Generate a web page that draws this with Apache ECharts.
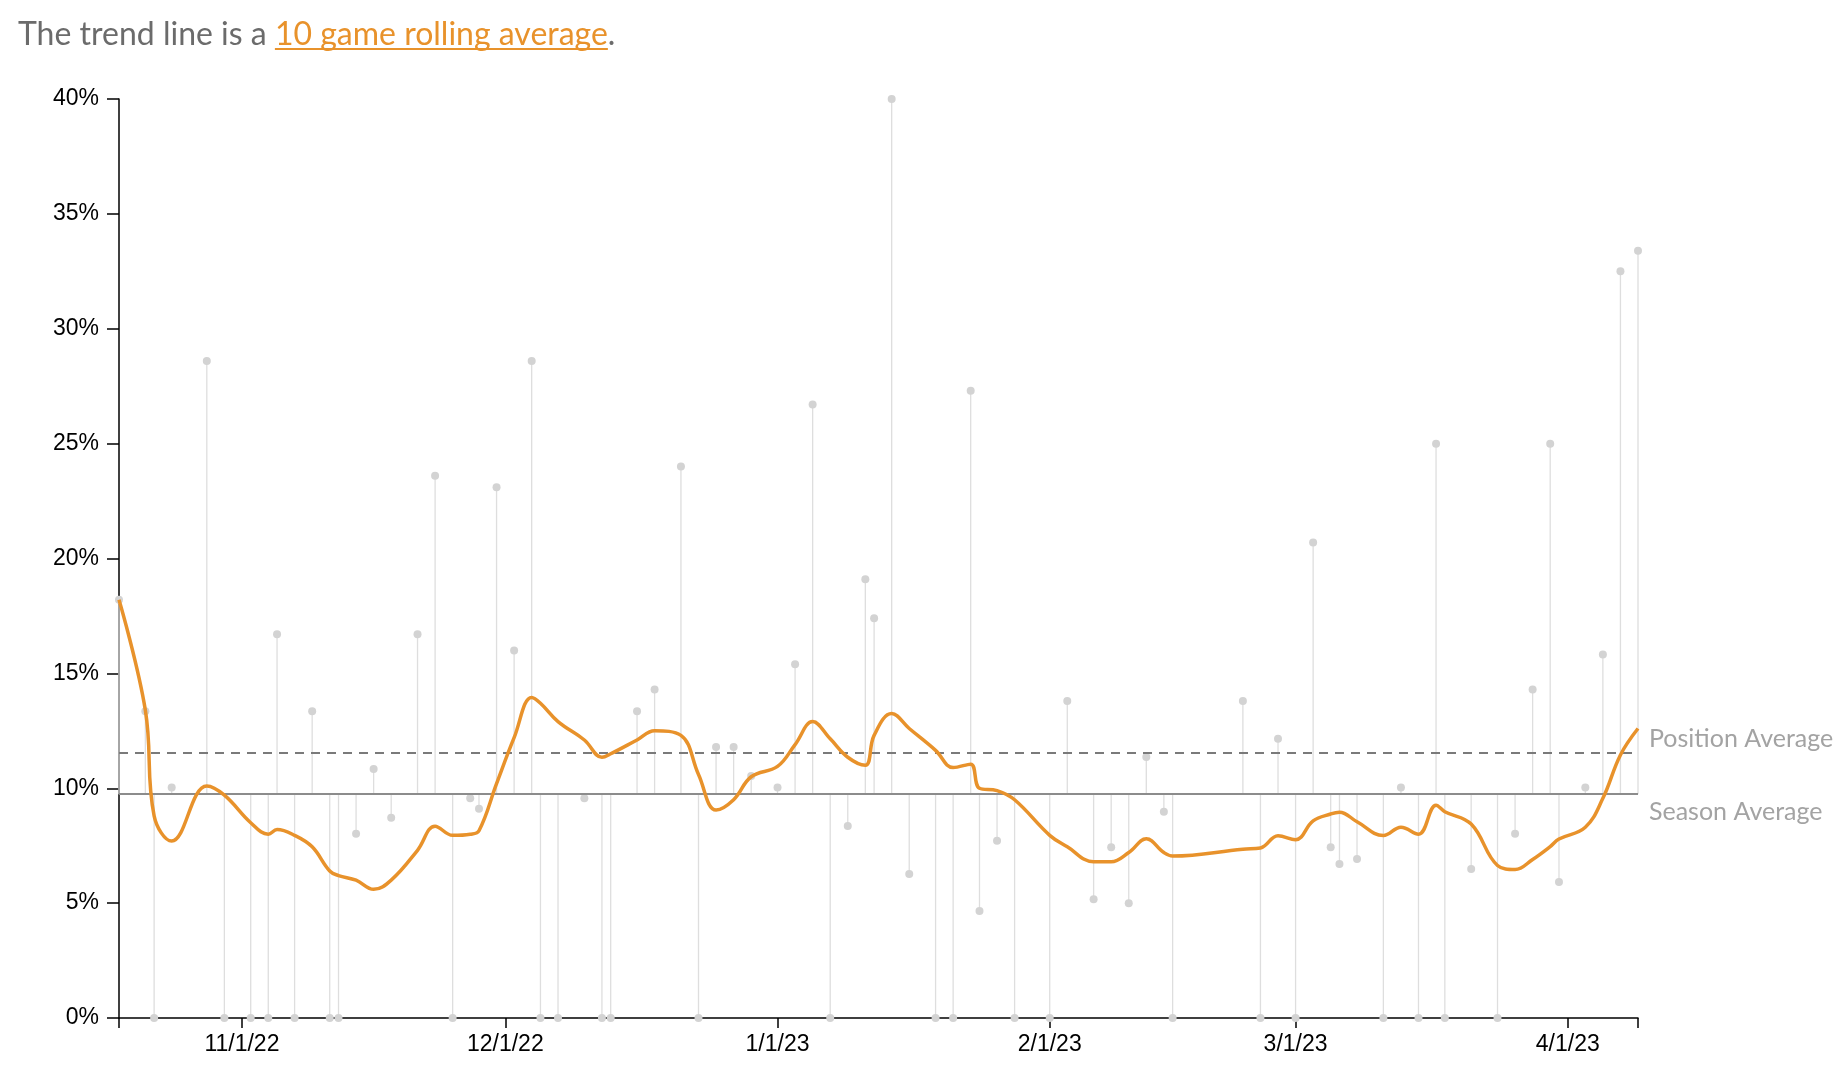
<!DOCTYPE html>
<html>
<head>
<meta charset="utf-8">
<script src="https://cdn.jsdelivr.net/npm/echarts@6/dist/echarts.min.js"></script>
<style>
html,body{margin:0;padding:0;background:#fff;}
#chart{width:1848px;height:1074px;}
</style>
</head>
<body>
<div id="chart"></div>
<script>
// ---- data ----
const gameDates = [
'2022-10-18','2022-10-21','2022-10-22','2022-10-24','2022-10-28','2022-10-30','2022-11-02','2022-11-04','2022-11-05','2022-11-07',
'2022-11-09','2022-11-11','2022-11-12','2022-11-14','2022-11-16','2022-11-18','2022-11-21','2022-11-23','2022-11-25','2022-11-27',
'2022-11-28','2022-11-30','2022-12-02','2022-12-04','2022-12-05','2022-12-07','2022-12-10','2022-12-12','2022-12-13','2022-12-16',
'2022-12-18','2022-12-21','2022-12-23','2022-12-25','2022-12-27','2022-12-29','2023-01-01','2023-01-03','2023-01-05','2023-01-07',
'2023-01-09','2023-01-11','2023-01-12','2023-01-14','2023-01-16','2023-01-19','2023-01-21','2023-01-23','2023-01-24','2023-01-26',
'2023-01-28','2023-02-01','2023-02-03','2023-02-06','2023-02-08','2023-02-10','2023-02-12','2023-02-14','2023-02-15','2023-02-23',
'2023-02-25','2023-02-27','2023-03-01','2023-03-03','2023-03-05','2023-03-06','2023-03-08','2023-03-11','2023-03-13','2023-03-15',
'2023-03-17','2023-03-18','2023-03-21','2023-03-24','2023-03-26','2023-03-28','2023-03-30','2023-03-31','2023-04-03','2023-04-05',
'2023-04-07','2023-04-09'
];
const gameValues = [
18.2,13.35,0,10.03,28.6,0,0,0,16.7,0,
13.35,0,0,8.02,10.84,8.72,16.7,23.6,0,9.56,
9.11,23.1,16.0,28.6,0,0,9.56,0,0,13.35,
14.3,24.0,0,11.8,11.8,10.53,10.03,15.4,26.7,0,
8.36,19.1,17.4,40.0,6.27,0,0,27.3,4.66,7.71,
0,0,13.8,5.17,7.43,5.0,11.36,8.98,0,13.8,
0,12.15,0,20.7,7.43,6.7,6.92,0,10.03,0,
25.0,0,6.48,0,8.02,14.3,25.0,5.92,10.03,15.82,
32.5,33.4
];
const trendValues = [
18.2,13.4,8.8,7.7,10.1,9.7,8.5,8.0,8.2,7.95,
7.45,6.4,6.2,6.0,5.6,6.0,7.3,8.35,7.95,8.0,
8.15,10.2,12.2,13.95,13.7,12.9,12.1,11.35,11.5,12.1,
12.5,12.3,10.6,9.05,9.5,10.5,10.95,11.9,12.9,12.15,
11.35,11.0,12.3,13.25,12.6,11.65,10.9,11.05,10.0,9.9,
9.5,7.95,7.45,6.8,6.8,7.2,7.8,7.2,7.05,7.35,
7.4,7.93,7.76,8.58,8.88,8.96,8.54,7.94,8.3,8.0,
9.26,8.98,8.44,6.64,6.46,6.9,7.46,7.79,8.3,9.56,
11.45,12.6
];
const seasonAverage = 9.74;
const positionAverage = 11.55;
const axisStart = '2022-10-18';
const axisEnd = '2023-04-09';
const monthTicks = ['2022-11-01','2022-12-01','2023-01-01','2023-02-01','2023-03-01','2023-04-01'];
const titleLead = 'The trend line is a ';
const titleLink = '10 game rolling average';
const titleTail = '.';

// ---- helpers ----
function toTs(s){ const p = s.split('-').map(Number); return new Date(p[0], p[1]-1, p[2]).getTime(); }
function fmtDate(v){ const d = new Date(v); return (d.getMonth()+1) + '/' + d.getDate() + '/' + String(d.getFullYear()).slice(2); }

const points = gameDates.map((d,i) => [toTs(d), gameValues[i]]);
const trend = gameDates.map((d,i) => [toTs(d), trendValues[i]]);
const xMin = toTs(axisStart), xMax = toTs(axisEnd);
const monthTs = monthTicks.map(toTs);

// title measurement
const TITLE_FONT = '32px Lato';
const mctx = document.createElement('canvas').getContext('2d');
mctx.font = TITLE_FONT;
const leadW = mctx.measureText(titleLead).width;
const linkW = mctx.measureText(titleLink).width;
const titleX = 18, titleTop = 19;

const chart = echarts.init(document.getElementById('chart'), null, {renderer:'canvas'});
const ORANGE = '#e8922b';

chart.setOption({
  animation: false,
  backgroundColor: '#ffffff',
  grid: {left:119, right:210, top:99, bottom:56, containLabel:false},
  xAxis: {
    type: 'value', min: xMin, max: xMax, scale: true,
    axisLine: {show:true, onZero:false, lineStyle:{color:'#000', width:1.5}},
    axisTick: {show:true, length:10, lineStyle:{color:'#000', width:1.5}, customValues:[xMin].concat(monthTs, [xMax])},
    axisLabel: {customValues: monthTs, formatter: fmtDate, color:'#000', fontSize:23, fontFamily:'Liberation Sans, Arial, sans-serif', margin:15},
    splitLine: {show:false}
  },
  yAxis: {
    type: 'value', min: 0, max: 40, interval: 5,
    axisLine: {show:true, lineStyle:{color:'#000', width:1.5}},
    axisTick: {show:true, length:12, lineStyle:{color:'#000', width:1.5}},
    axisLabel: {formatter:'{value}%', color:'#000', fontSize:23, fontFamily:'Liberation Sans, Arial, sans-serif', margin:20},
    splitLine: {show:false}
  },
  graphic: [
    {type:'text', left:titleX, top:titleTop, z:10,
     style:{text:titleLead, font:TITLE_FONT, fill:'#6b6b6b'}},
    {type:'text', left:titleX + leadW, top:titleTop, z:10,
     style:{text:titleLink, font:TITLE_FONT, fill:ORANGE}},
    {type:'text', left:titleX + leadW + linkW, top:titleTop, z:10,
     style:{text:titleTail, font:TITLE_FONT, fill:'#6b6b6b'}},
    {type:'rect', left:titleX + leadW, top:48, z:10,
     shape:{width:linkW, height:2}, style:{fill:ORANGE}}
  ],
  series: [
    {
      type: 'custom', name: 'games', z: 1,
      data: points,
      encode: {x:0, y:1},
      renderItem: function(params, api){
        const x = api.value(0), v = api.value(1);
        const p0 = api.coord([x, seasonAverage]);
        const p1 = api.coord([x, v]);
        return {type:'group', children:[
          {type:'line', shape:{x1:p0[0], y1:p0[1], x2:p1[0], y2:p1[1]}, style:{stroke:'#dedede', lineWidth:1.3}},
          {type:'circle', shape:{cx:p1[0], cy:p1[1], r:4}, style:{fill:'#d3d3d3'}}
        ]};
      }
    },
    {
      type: 'line', name: 'trend', z: 5,
      data: trend,
      smooth: 0.4,
      showSymbol: false,
      lineStyle: {color: ORANGE, width: 3.5},
      markLine: {
        silent: true, symbol: ['none','none'], animation: false, z: 3,
        data: [
          {yAxis: positionAverage,
           lineStyle: {color:'#7a7a7a', type:[9,7], width:2},
           label: {show:true, position:'end', formatter:'Position Average', color:'#a3a3a3', fontSize:25, fontFamily:'Lato', distance:11, offset:[0,-14]}},
          {yAxis: seasonAverage,
           lineStyle: {color:'#8c8c8c', type:'solid', width:2.2},
           label: {show:true, position:'end', formatter:'Season Average', color:'#a3a3a3', fontSize:25, fontFamily:'Lato', distance:11, offset:[0,18]}}
        ]
      }
    }
  ]
});
</script>
</body>
</html>
